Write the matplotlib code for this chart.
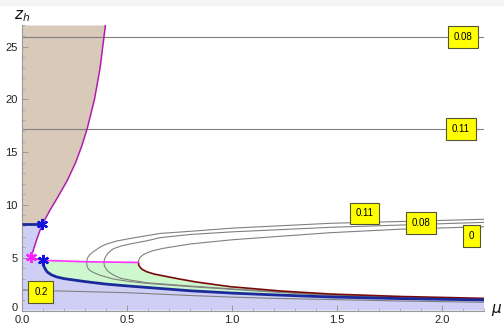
import matplotlib
matplotlib.use("Agg")
import matplotlib.pyplot as plt
from matplotlib.ticker import MultipleLocator
from matplotlib.patches import Rectangle
from matplotlib.transforms import ScaledTranslation

plt.rcParams['font.family'] = ['Liberation Sans', 'DejaVu Sans']

# ---------------- data ----------------
# boundary of the brown region (upper magenta curve)
mag_up_mu = [0.097, 0.133, 0.172, 0.215, 0.255, 0.283, 0.31, 0.345, 0.372, 0.39, 0.397]
mag_up_z = [8.18, 9.5, 10.8, 12.3, 14.0, 15.5, 17.2, 20.0, 23.0, 25.9, 27.0]
# lower magenta curve (upper star -> magenta star -> lower star)
mag_lo_mu = [0.097, 0.082, 0.068, 0.055, 0.043, 0.07, 0.098]
mag_lo_z = [8.18, 7.4, 6.6, 5.8, 5.03, 4.9, 4.75]
# magenta horizontal segment
mag_h_mu = [0.098, 0.3, 0.554]
mag_h_z = [4.75, 4.62, 4.55]
# thick blue curve
blue_mu = [0.098, 0.1, 0.104, 0.11, 0.12, 0.14, 0.165, 0.2, 0.25, 0.3, 0.4, 0.5, 0.65, 0.8, 1.0, 1.2, 1.47, 1.8, 2.2]
blue_z = [4.75, 4.45, 4.2, 3.95, 3.65, 3.38, 3.18, 3.02, 2.88, 2.74, 2.5, 2.33, 2.1, 1.87, 1.65, 1.48, 1.28, 1.13, 1.0]
# blue horizontal segment
blue_h_mu = [0.0, 0.097]
blue_h_z = [8.18, 8.18]
# maroon curve
maroon_mu = [0.554, 0.556, 0.562, 0.572, 0.594, 0.63, 0.673, 0.75, 0.83, 0.99, 1.23, 1.47, 1.8, 2.2]
maroon_z = [4.55, 4.3, 4.1, 3.9, 3.67, 3.45, 3.28, 2.98, 2.7, 2.26, 1.85, 1.56, 1.33, 1.15]

# gray contour curves (C-shaped): label 0.11, 0.08, 0
grayA_mu = [2.2, 1.467, 1.0, 0.8, 0.657, 0.514, 0.45, 0.403, 0.38, 0.36, 0.34, 0.323, 0.314, 0.309, 0.308,
            0.309, 0.314, 0.323, 0.34, 0.37, 0.435, 0.51, 0.594, 0.8, 1.0, 1.47, 2.2]
grayA_z = [8.64, 8.26, 7.8, 7.5, 7.3, 6.82, 6.58, 6.3, 6.1, 5.85, 5.57, 5.3, 5.05, 4.8, 4.53,
           4.25, 4.0, 3.8, 3.6, 3.35, 2.98, 2.75, 2.57, 2.26, 2.0, 1.42, 1.05]
grayB_mu = [2.2, 1.467, 1.0, 0.8, 0.657, 0.594, 0.514, 0.47, 0.435, 0.41, 0.398, 0.392, 0.39,
            0.392, 0.398, 0.41, 0.435, 0.47, 0.51, 0.594, 0.8, 1.0, 1.47, 2.2]
grayB_z = [8.35, 7.88, 7.45, 7.2, 6.9, 6.6, 6.3, 6.1, 5.85, 5.45, 5.1, 4.8, 4.53,
           4.25, 4.0, 3.7, 3.36, 3.05, 2.9, 2.63, 2.32, 2.05, 1.45, 1.07]
grayC_mu = [2.2, 1.8, 1.467, 1.0, 0.8, 0.673, 0.62, 0.594, 0.577, 0.563, 0.556, 0.554]
grayC_z = [7.94, 7.7, 7.37, 6.7, 6.3, 5.89, 5.65, 5.45, 5.28, 5.05, 4.8, 4.55]
# gray curve labelled 0.2
grayD_mu = [0.0, 0.28, 0.51, 0.8, 1.0, 1.2, 1.42, 1.8, 2.2]
grayD_z = [1.94, 1.8, 1.68, 1.42, 1.27, 1.15, 1.06, 0.9, 0.78]
# horizontal gray lines
hline_z = [25.9, 17.2]

# stars
blue_star_mu = [0.097, 0.098]
blue_star_z = [8.18, 4.75]
mag_star_mu = [0.043]
mag_star_z = [5.03]

# labels
label_text = ['0.08', '0.11', '0.11', '0.08', '0', '0.2']
label_mu = [2.10, 2.09, 1.63, 1.90, 2.14, 0.09]
label_z = [25.9, 17.2, 9.2, 8.26, 7.08, 1.75]

# tick labels
xtick_vals = [0, 0.5, 1.0, 1.5, 2.0]
xtick_labels = ['0.0', '0.5', '1.0', '1.5', '2.0']
ytick_vals = [0, 5, 10, 15, 20, 25]
ytick_labels = ['0', '5', '10', '15', '20', '25']

xmax, ymax = 2.2, 27.0

# ---------------- figure ----------------
fig = plt.figure(figsize=(5.04, 3.25), dpi=100)
fig.patches.append(Rectangle((0, 0.985), 1, 0.015, transform=fig.transFigure,
                             color='#f4f4f4', zorder=0))
ax = fig.add_axes([0.0437, 0.0446, 0.9167, 0.877])
ax.set_xlim(0, xmax)
ax.set_ylim(0, ymax)

c_lav = '#cfcff6'
c_green = '#cdf8cd'
c_tan = '#d9c9b9'
c_gray = '#808080'

# lavender fill
lav_x = [0.0, 0.0] + mag_lo_mu + blue_mu[1:] + [xmax]
lav_y = [0.0, blue_h_z[0]] + mag_lo_z + blue_z[1:] + [0.0]
ax.fill(lav_x, lav_y, color=c_lav, lw=0, zorder=1)
# green fill
gr_x = blue_mu + maroon_mu[::-1] + mag_h_mu[::-1]
gr_y = blue_z + maroon_z[::-1] + mag_h_z[::-1]
ax.fill(gr_x, gr_y, color=c_green, lw=0, zorder=1)
# tan fill
tan_x = [0.0] + mag_up_mu + [0.0]
tan_y = [blue_h_z[0]] + mag_up_z + [ymax]
ax.fill(tan_x, tan_y, color=c_tan, lw=0, zorder=1)

# gray lines
for z in hline_z:
    ax.plot([0, xmax], [z, z], color=c_gray, lw=0.8, zorder=2)
for mx, mz in [(grayA_mu, grayA_z), (grayB_mu, grayB_z), (grayC_mu, grayC_z), (grayD_mu, grayD_z)]:
    ax.plot(mx, mz, color=c_gray, lw=0.8, zorder=2)

ax.plot(maroon_mu, maroon_z, color='#7a0a0a', lw=1.2, zorder=3)
ax.plot(mag_up_mu, mag_up_z, color='#b01cb0', lw=1.1, zorder=3)
ax.plot(mag_lo_mu, mag_lo_z, color='#b01cb0', lw=1.1, zorder=3)
ax.plot(mag_h_mu, mag_h_z, color='#ff30ff', lw=1.2, zorder=3)
ax.plot(blue_mu, blue_z, color='#1a2a9a', lw=2.0, zorder=4, solid_capstyle='butt')
ax.plot(blue_h_mu, blue_h_z, color='#1a2a9a', lw=2.0, zorder=4, solid_capstyle='butt')

ax.plot(blue_star_mu, blue_star_z, ls='none', marker=(6, 2, 0), ms=8, mew=1.6,
        color='#1010e0', zorder=5)
ax.plot(mag_star_mu, mag_star_z, ls='none', marker=(6, 2, 0), ms=8, mew=1.6,
        color='#ff20ff', zorder=5)

for t, mx, mz in zip(label_text, label_mu, label_z):
    ax.text(mx, mz, t, fontsize=7, ha='center', va='center', zorder=6,
            bbox=dict(boxstyle='square,pad=0.6', fc='#ffff00', ec='#555533', lw=0.8))

# axes styling (Mathematica-like)
for s in ['top', 'right']:
    ax.spines[s].set_visible(False)
for s in ['left', 'bottom']:
    ax.spines[s].set_color('#999999')
    ax.spines[s].set_linewidth(0.8)
ax.set_xticks(xtick_vals)
ax.set_xticklabels(xtick_labels)
ax.set_yticks(ytick_vals)
ax.set_yticklabels(ytick_labels)
ax.xaxis.set_minor_locator(MultipleLocator(0.1))
ax.yaxis.set_minor_locator(MultipleLocator(1))
ax.tick_params(which='both', direction='in', color='#999999', labelsize=8, labelcolor='#222222')
ax.tick_params(which='major', length=4, width=0.7)
ax.tick_params(which='minor', length=2.2, width=0.5)
ax.tick_params(axis='x', which='major', pad=3.5)
ax.tick_params(axis='y', which='major', pad=3)

# nudge the y-axis "0" label up slightly so it does not collide with "0.0"
lbl0 = ax.get_yticklabels()[0]
lbl0.set_transform(lbl0.get_transform() + ScaledTranslation(0, 2.5 / 72, fig.dpi_scale_trans))

fig.text(0.028, 0.95, r'$z_h$', fontsize=11, ha='left', va='center', color='#111111',
         family='DejaVu Sans')
fig.text(0.975, 0.045, r'$\mu$', fontsize=11, ha='left', va='center', color='#111111',
         family='DejaVu Sans')

fig.savefig('out.png', dpi=100)
